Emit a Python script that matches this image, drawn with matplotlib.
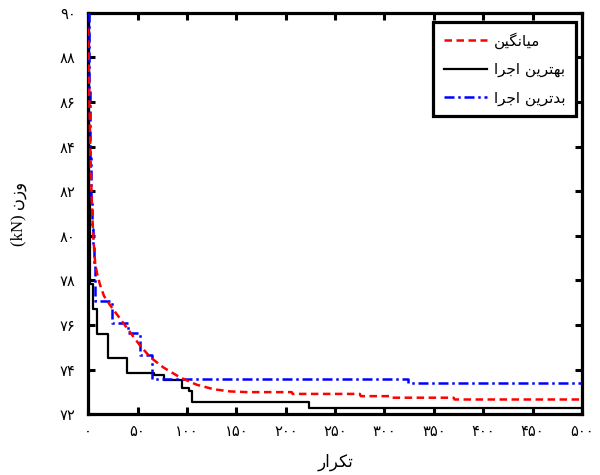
import matplotlib
matplotlib.use("Agg")
import matplotlib.pyplot as plt

# Persian text written in visual order with Arabic presentation forms
# (matplotlib does no shaping / bidi on its own)
lbl_mean = "\uFEE6\uFEF4\uFB95\uFEE7\uFE8E\uFEF4\uFEE3"          # میانگین
lbl_best = "\uFE8D\uFEAE\uFE9F\uFE8D \uFEE6\uFEF3\uFEAE\uFE98\uFEEC\uFE91"   # بهترین اجرا
lbl_worst = "\uFE8D\uFEAE\uFE9F\uFE8D \uFEE6\uFEF3\uFEAE\uFE97\uFEAA\uFE91"  # بدترین اجرا
xlab = "\uFEAD\uFE8D\uFEAE\uFB91\uFE97"                           # تکرار
ylab = "(kN) \uFEE5\uFEAF\uFEED"                                   # وزن (kN)

# mean of runs
iters_mean = [0, 1, 2, 3, 4, 5, 6, 7, 9, 12, 16, 22, 32, 42, 53, 63, 76, 93,
              110, 127, 144, 161, 206, 207, 275, 276, 306, 307, 370, 371, 500]
weight_mean = [89.3, 86.5, 84.2, 82.5, 81.1, 80.1, 79.4, 78.8, 78.3, 77.8, 77.3,
               76.9, 76.3, 75.7, 75.05, 74.55, 74.1, 73.65, 73.32, 73.12, 73.02,
               72.99, 72.99, 72.91, 72.91, 72.81, 72.81, 72.74, 72.74, 72.66, 72.66]

# best run (step)
iters_best = [0, 1, 2, 5, 9, 20.5, 39, 66.5, 76.5, 95, 102, 105.5, 224, 500]
weight_best = [90, 82, 77.85, 76.7, 75.6, 74.5, 73.83, 73.74, 73.52, 73.19,
               73.04, 72.55, 72.26, 72.26]

# worst run (step)
iters_worst = [0, 1, 2, 3, 4, 5, 6, 7, 24.5, 40, 52, 65, 324, 500]
weight_worst = [90, 86.5, 83.5, 81.5, 80.3, 79.5, 78.7, 77.09, 76.11, 75.66,
                74.67, 73.58, 73.38, 73.38]

xticks = list(range(0, 501, 50))
yticks = list(range(72, 91, 2))
fa_digits = str.maketrans("0123456789", "\u06F0\u06F1\u06F2\u06F3\u06F4\u06F5\u06F6\u06F7\u06F8\u06F9")

fig = plt.figure(figsize=(6, 4.75), dpi=100)
ax = fig.add_axes([0.147, 0.128, 0.823, 0.845])

ax.plot(iters_best, weight_best, color="black", lw=1.6, drawstyle="steps-post",
        label=lbl_best, zorder=2)
ax.plot(iters_worst, weight_worst, color="blue", lw=1.8, drawstyle="steps-post",
        linestyle=(0, (4, 1.5, 1, 1.5)), label=lbl_worst, zorder=3)
ax.plot(iters_mean, weight_mean, color="red", lw=1.8,
        linestyle=(0, (3, 1.8)), label=lbl_mean, zorder=4)

ax.set_xlim(0, 500)
ax.set_ylim(72, 90)
ax.set_xticks(xticks)
ax.set_yticks(yticks)
ax.set_xticklabels([str(t).translate(fa_digits) for t in xticks], fontsize=10.5)
ax.set_yticklabels([str(t).translate(fa_digits) for t in yticks], fontsize=10.5)
ax.tick_params(direction="in", length=5, width=2.2, top=True, right=True)
ax.tick_params(axis="x", pad=7)
ax.tick_params(axis="y", pad=9)
for s in ax.spines.values():
    s.set_linewidth(2.3)

ax.set_xlabel(xlab, fontsize=12, labelpad=10)
ax.set_ylabel(ylab, fontsize=12, labelpad=24, family=["Liberation Serif", "DejaVu Sans"])

h, l = ax.get_legend_handles_labels()
order = [2, 0, 1]
leg = ax.legend([h[i] for i in order], [l[i] for i in order], loc="upper right",
                bbox_to_anchor=(0.988, 0.978), borderaxespad=0, fancybox=False,
                framealpha=1, edgecolor="black", fontsize=11, handlelength=2.8,
                labelspacing=0.86, borderpad=0.7, handletextpad=0.45)
leg.get_frame().set_linewidth(2.3)

fig.savefig("out.png", dpi=100)
